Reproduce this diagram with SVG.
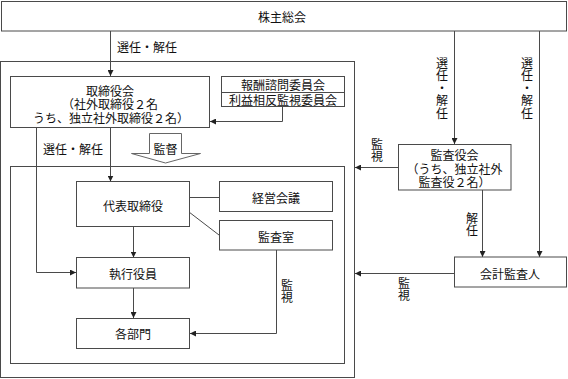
<svg xmlns="http://www.w3.org/2000/svg" width="568" height="379" viewBox="0 0 568 379">
<style>
.box{fill:#fff;stroke:#4a4a4a;stroke-width:1}
.frame{fill:none;stroke:#4a4a4a;stroke-width:1}
.ln{fill:none;stroke:#4a4a4a;stroke-width:1}
text{font-family:"Noto Sans CJK JP","Noto Sans CJK SC",sans-serif;font-size:12px;fill:#111;dominant-baseline:central}
.c{text-anchor:middle}
.v{writing-mode:vertical-rl;text-orientation:upright;text-anchor:start}
</style>
<defs>
<marker id="ah" viewBox="0 0 6 6" refX="6" refY="3" markerWidth="6" markerHeight="6" markerUnits="userSpaceOnUse" orient="auto">
<path d="M0,0 L6,3 L0,6 z" fill="#222"/>
</marker>
</defs>
<rect width="568" height="379" fill="#fff"/>
<g id="frames">
<rect class="frame" x="0.5" y="61.5" width="354" height="316"/>
<rect class="frame" x="10.5" y="166.5" width="334" height="197"/>
</g>
<g id="connectors">
<path class="ln" d="M110.5,31 V76" marker-end="url(#ah)"/>
<path class="ln" d="M282.5,107 V121.5 H210" marker-end="url(#ah)"/>
<path class="ln" d="M110.5,128 V181.5" marker-end="url(#ah)"/>
<path class="ln" d="M36.5,128 V272.5 H76" marker-end="url(#ah)"/>
<path class="ln" d="M133.5,227 V257.5" marker-end="url(#ah)"/>
<path class="ln" d="M133.5,288 V318" marker-end="url(#ah)"/>
<path class="ln" d="M189,197.5 H219"/>
<path class="ln" d="M189,212 L219,235"/>
<path class="ln" d="M276.5,250 V333.5 H190" marker-end="url(#ah)"/>
<path class="ln" d="M454.5,31 V144" marker-end="url(#ah)"/>
<path class="ln" d="M539.5,31 V257" marker-end="url(#ah)"/>
<path class="ln" d="M482.5,190 V257" marker-end="url(#ah)"/>
<path class="ln" d="M398,167.5 H355" marker-end="url(#ah)"/>
<path class="ln" d="M454,273.5 H355" marker-end="url(#ah)"/>
<polygon points="149.5,133.5 181.5,133.5 181.5,153.5 200.5,153.5 165.5,163 131.5,153.5 149.5,153.5" fill="#fff" stroke="#666" stroke-width="1"/>
</g>
<g id="labels">
<text x="147" y="46.5" class="c">選任・解任</text>
<text x="73" y="148.5" class="c">選任・解任</text>
<text x="165.5" y="148" class="c">監督</text>
<text x="287" y="279" class="v">監視</text>
<text x="377" y="138" class="v">監視</text>
<text x="404" y="277" class="v">監視</text>
<text x="472" y="212" class="v">解任</text>
<text x="442" y="57" class="v" letter-spacing="0.5">選任・解任</text>
<text x="527" y="57" class="v" letter-spacing="0.5">選任・解任</text>
</g>
<g id="kabunushi">
<rect class="box" x="1.5" y="1.5" width="565" height="29.5"/>
<text x="282" y="16" class="c">株主総会</text>
</g>
<g id="torishimariyakukai">
<rect class="box" x="10.5" y="76.5" width="199" height="51"/>
<text class="c"><tspan x="110" y="89.5">取締役会</tspan><tspan x="110" y="103">（社外取締役２名</tspan><tspan x="111" y="116.5">うち、独立社外取締役２名）</tspan></text>
</g>
<g id="committees">
<rect class="box" x="221.5" y="76.5" width="123" height="30"/>
<line class="ln" x1="221.5" y1="92.5" x2="344.5" y2="92.5"/>
<text x="283" y="84" class="c">報酬諮問委員会</text>
<text x="283" y="99.5" class="c">利益相反監視委員会</text>
</g>
<g id="daihyo">
<rect class="box" x="76.5" y="181.5" width="113" height="45"/>
<text x="133" y="205" class="c">代表取締役</text>
</g>
<g id="keiei">
<rect class="box" x="219.5" y="181.5" width="113" height="30"/>
<text x="276" y="197.5" class="c">経営会議</text>
</g>
<g id="kansashitsu">
<rect class="box" x="219.5" y="220.5" width="113" height="29.5"/>
<text x="276" y="236" class="c">監査室</text>
</g>
<g id="shikko">
<rect class="box" x="76.5" y="257.5" width="113" height="30.5"/>
<text x="133" y="273" class="c">執行役員</text>
</g>
<g id="kakubumon">
<rect class="box" x="76.5" y="318.5" width="113" height="30"/>
<text x="133" y="333.5" class="c">各部門</text>
</g>
<g id="kansayakukai">
<rect class="box" x="398.5" y="144.5" width="112.5" height="45.5"/>
<text class="c"><tspan x="454.5" y="154">監査役会</tspan><tspan x="454.5" y="167.5">（うち、独立社外</tspan><tspan x="454.5" y="181">監査役２名）</tspan></text>
</g>
<g id="kaikei">
<rect class="box" x="454.5" y="257" width="112" height="30"/>
<text x="510" y="273" class="c">会計監査人</text>
</g>
</svg>
